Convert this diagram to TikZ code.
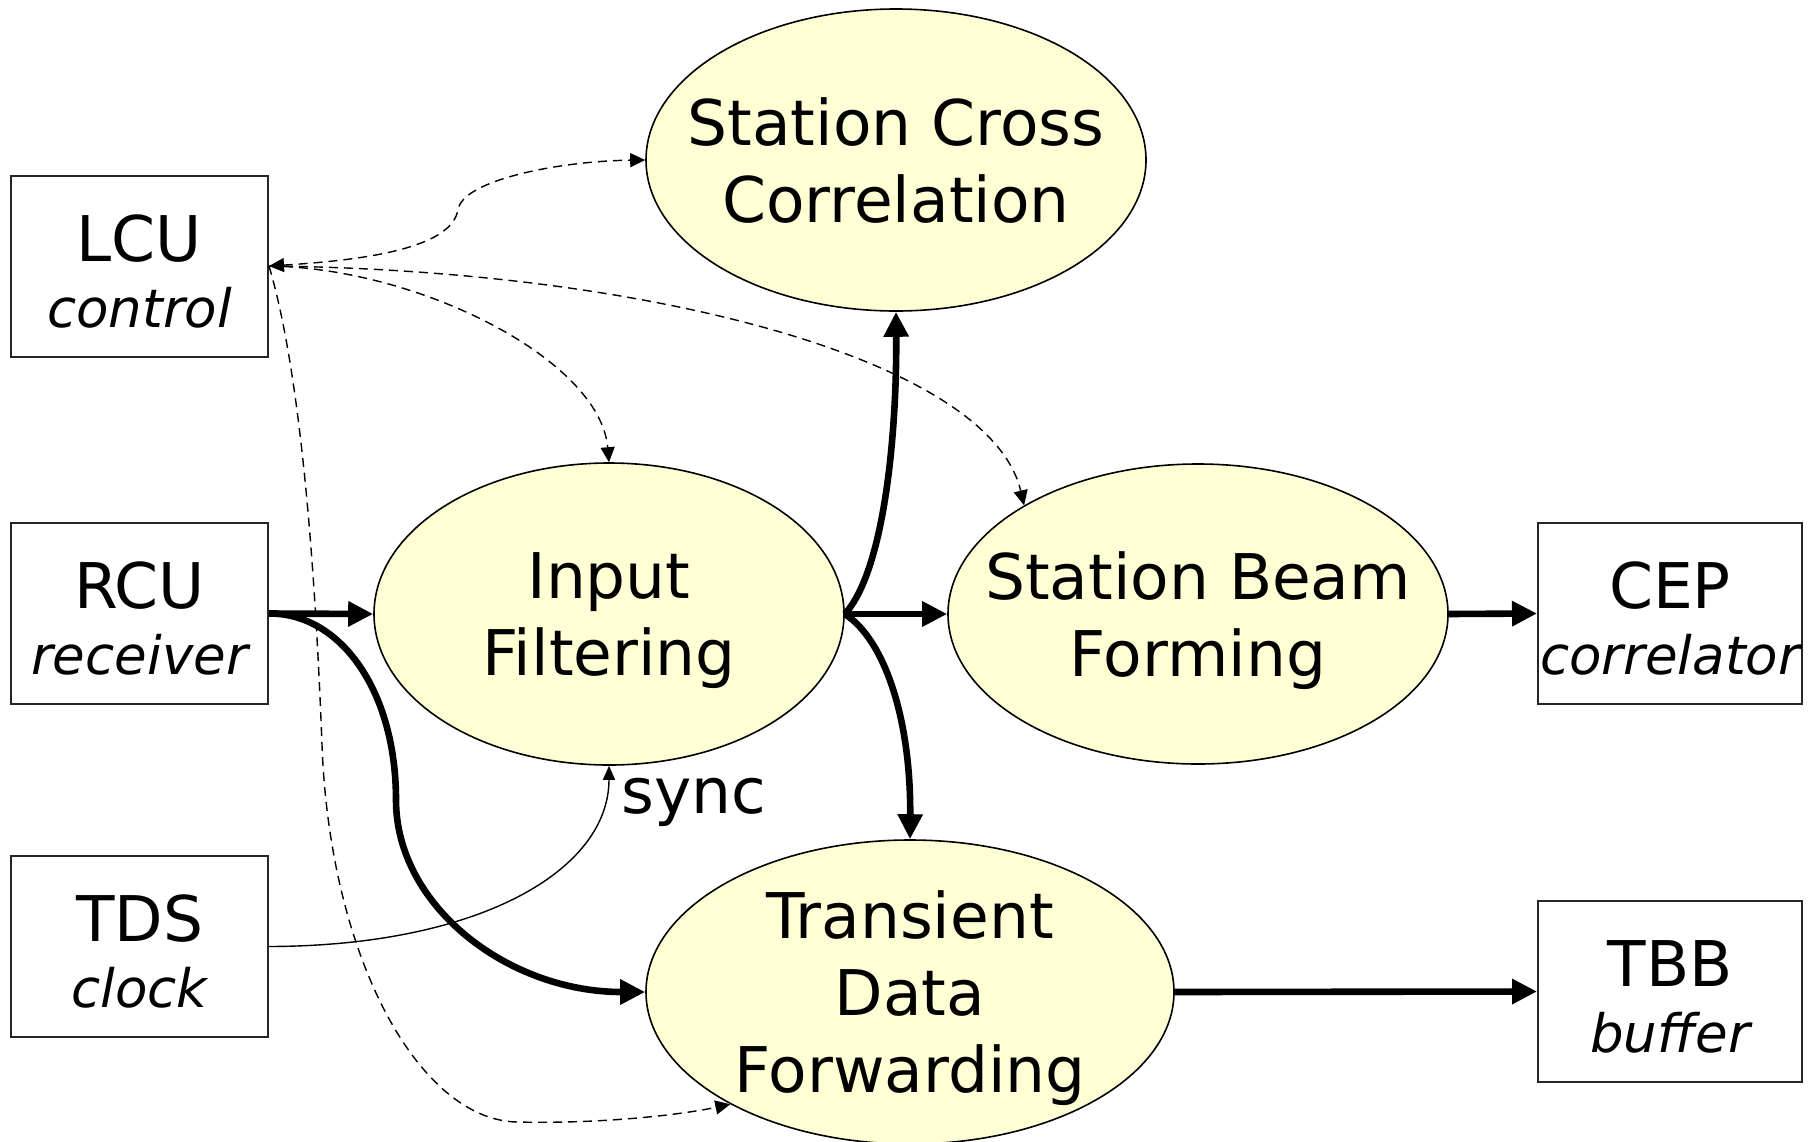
\documentclass[tikz,border=0pt]{standalone}
\usepackage{fontspec}
\setmainfont{DejaVu Sans}
\usetikzlibrary{shapes.geometric,arrows.meta}
\definecolor{procfill}{HTML}{FFFFD5}
\begin{document}
\begin{tikzpicture}[x=0.5pt,y=-0.5pt,
  proc/.style={ellipse, draw=black, line width=0.8pt, fill=procfill, inner xsep=-40pt, inner ysep=-40pt, align=center, text depth=0pt, font=\fontsize{31.5}{38.5}\selectfont},
  ext/.style={rectangle, draw=black!85, line width=1pt, inner sep=0pt, align=center, text height=61pt, text depth=0pt, minimum width=128.5pt, minimum height=90.5pt, font=\fontsize{31.5}{33}\selectfont},
  flow/.style={line width=3.3pt, -{Triangle[length=12.5pt,width=12pt]}},
  ctl/.style={line width=0.7pt, dash pattern=on 4.5pt off 3pt, -{Triangle[length=7.5pt,width=7pt]}},
  sig/.style={line width=0.7pt, -{Triangle[length=7pt,width=6pt]}}
]
\path[use as bounding box, fill=white] (0,0) rectangle (1809,1141);

% process ellipses
\node[proc, minimum width=250pt, minimum height=151pt] (scc) at (896,160) {Station Cross\\Correlation};
\node[proc, minimum width=235pt, minimum height=151pt] (inf) at (609,614) {Input\\Filtering};
\node[proc, minimum width=250pt, minimum height=150pt] (sbf) at (1198,614) {Station Beam\\Forming};
\node[proc, minimum width=264pt, minimum height=152pt] (tdf) at (910,992) {Transient\\Data\\Forwarding};

% external boxes
\node[ext] (lcu) at (139.5,266) {LCU\\\fontsize{26.5}{33}\selectfont\itshape control};
\node[ext] (rcu) at (139.5,613.5) {RCU\\\fontsize{26.5}{33}\selectfont\itshape receiver};
\node[ext] (tds) at (139.5,946.5) {TDS\\\fontsize{26.5}{33}\selectfont\itshape clock};
\node[ext, minimum width=132pt] (cep) at (1670,613.5) {CEP\\\fontsize{26.5}{33}\selectfont\itshape correlator};
\node[ext, minimum width=132pt] (tbb) at (1670,991.5) {TBB\\\fontsize{26.5}{33}\selectfont\itshape buffer};

\node[anchor=base west, inner sep=0pt, font=\fontsize{31.5}{38.5}\selectfont] (sync) at (621,813) {sync};

% data flow
\draw[flow] (rcu.east) -- (inf.west);
\draw[flow] (rcu.east) .. controls (340,613) and (396,690) .. (396,800)
  .. controls (396,906) and (508,992) .. (tdf.west);
\draw[flow] (inf.east) .. controls (885,570) and (897,430) .. (scc.south);
\draw[flow] (inf.east) -- (sbf.west);
\draw[flow] (inf.east) .. controls (885,640) and (911,720) .. (tdf.north);
\draw[flow] (sbf.east) -- (cep.west);
\draw[flow] (tdf.east) -- (tbb.west);

% clock sync
\draw[sig] (tds.east) .. controls (480,946) and (609,870) .. (inf.south);

% control
\draw[ctl, {Triangle[length=7.5pt,width=7pt]}-{Triangle[length=7.5pt,width=7pt]}] (lcu.east) .. controls (400,258) and (452,240) .. (458,210)
  .. controls (462,180) and (560,161) .. (scc.west);
\draw[ctl] (lcu.east) .. controls (420,268) and (600,360) .. (inf.north);
\draw[ctl] (lcu.east) .. controls (650,270) and (990,360) .. (sbf.148);
\draw[ctl] (lcu.east) .. controls (300,370) and (315,560) .. (322,745)
  .. controls (330,960) and (420,1120) .. (517,1122)
  .. controls (600,1124) and (680,1115) .. (tdf.212);
\end{tikzpicture}
\end{document}
